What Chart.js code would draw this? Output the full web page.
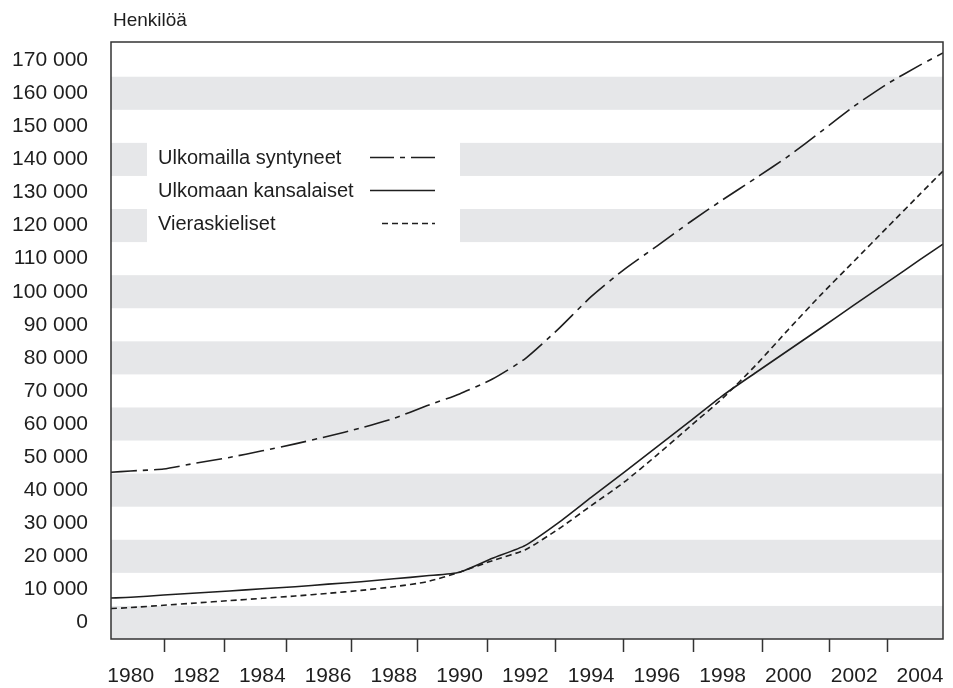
<!DOCTYPE html>
<html>
<head>
<meta charset="utf-8">
<script src="https://cdn.jsdelivr.net/npm/chart.js@4/dist/chart.umd.min.js"></script>
<style>
  body{margin:0;background:#fff;}
</style>
</head>
<body>
<canvas id="chart" width="953" height="688"></canvas>
<script>
// Data (first/last x are the plot edges)
const years = [1979.4,1980,1981,1982,1983,1984,1985,1986,1987,1988,1989,1990,1991,1992,
  1993,1994,1995,1996,1997,1998,1999,2000,2001,2002,2003,2004,2004.7];
const syntyneet = [45400,45800,46400,48200,49900,51900,54000,56300,58800,61700,65500,69100,73600,
  79800,88700,98500,106700,113800,121000,127800,134300,141000,148500,156100,162800,168500,172200];
const kansalaiset = [7400,7600,8300,8900,9500,10200,10800,11600,12300,13200,14100,15200,19400,
  23300,30100,37800,45400,53100,60800,68600,75500,82300,89100,96000,102800,109700,114400];
const vieraskieliset = [4200,4500,5200,5900,6600,7300,8000,8800,9700,10800,12300,15200,18700,
  22000,28200,35300,42400,50600,59200,67800,77700,88600,99200,109300,119400,129500,136500];

const labels = ["Ulkomailla syntyneet","Ulkomaan kansalaiset","Vieraskieliset"];
const xLabelYears = [1980,1982,1984,1986,1988,1990,1992,1994,1996,1998,2000,2002,2004];
const xTickMarks = [1981.0,1982.83,1984.71,1986.71,1988.72,1990.84,1992.91,1994.98,1997.11,1999.2,2001.23,2002.99];
const yTicks = [0,10000,20000,30000,40000,50000,60000,70000,80000,90000,100000,110000,120000,
  130000,140000,150000,160000,170000];

const ink = "#1e1e1e";
const font = "'Liberation Sans', Arial, sans-serif";

function fmt(v){ return String(v).replace(/\B(?=(\d{3})+(?!\d))/g," "); }
function pts(arr){ return arr.map((v,i)=>({x:years[i],y:v})); }

// grey bands + legend background
const bands = {
  id:"bands",
  beforeDatasetsDraw(chart){
    const {ctx,chartArea:a,scales:{y}} = chart;
    ctx.save();
    ctx.fillStyle = "#e6e7e9";
    yTicks.forEach(v=>{
      if(v % 20000 !== 0) return;
      let t = Math.max(y.getPixelForValue(v+5000), a.top);
      let b = Math.min(y.getPixelForValue(v-5000), a.bottom);
      ctx.fillRect(a.left, t, a.right-a.left, b-t);
    });
    // white box behind legend
    ctx.fillStyle = "#fff";
    let t = y.getPixelForValue(147000), b = y.getPixelForValue(113000);
    ctx.fillRect(a.left+36, t, 313, b-t);
    ctx.restore();
  }
};

// legend inside the plot, text then line sample
const legendIn = {
  id:"legendIn",
  afterDatasetsDraw(chart){
    const {ctx,chartArea:a,scales:{y}} = chart;
    ctx.save();
    ctx.font = "20px " + font;
    ctx.fillStyle = ink;
    ctx.textBaseline = "middle";
    chart.data.datasets.forEach((ds,i)=>{
      const py = y.getPixelForValue(140000 - i*10000) - 1;
      ctx.fillText(ds.label, a.left+47, py);
      ctx.strokeStyle = ink;
      ctx.lineWidth = 1.5;
      ctx.setLineDash(i===0 ? [24,6,5,6] : (ds.borderDash||[]));
      ctx.beginPath();
      ctx.moveTo(a.left + (i===2 ? 271 : 259), py - 1);
      ctx.lineTo(a.left+324, py - 1);
      ctx.stroke();
    });
    ctx.restore();
  }
};

// frame, tick marks, unit label
const frame = {
  id:"frame",
  afterDraw(chart){
    const {ctx,chartArea:a,scales:{x}} = chart;
    ctx.save();
    ctx.strokeStyle = "#333";
    ctx.lineWidth = 1.5;
    ctx.strokeRect(a.left, a.top, a.right-a.left, a.bottom-a.top);
    ctx.beginPath();
    xTickMarks.forEach(v=>{
      const px = Math.round(x.getPixelForValue(v)) + 0.5;
      ctx.moveTo(px, a.bottom);
      ctx.lineTo(px, a.bottom+13);
    });
    ctx.stroke();
    ctx.font = "19px " + font;
    ctx.fillStyle = ink;
    ctx.textBaseline = "alphabetic";
    ctx.fillText("Henkilöä", a.left+2, 26);
    ctx.restore();
  }
};

new Chart(document.getElementById("chart"), {
  type:"line",
  data:{
    datasets:[
      {label:labels[0], data:pts(syntyneet), borderDash:[26,6,5,6]},
      {label:labels[1], data:pts(kansalaiset)},
      {label:labels[2], data:pts(vieraskieliset), borderDash:[6,4]}
    ].map(d=>Object.assign({borderColor:ink, borderWidth:1.6, pointRadius:0, tension:0.2, fill:false}, d))
  },
  options:{
    responsive:false,
    animation:false,
    devicePixelRatio:1,
    layout:{padding:{top:42,right:10,left:0,bottom:0}},
    plugins:{legend:{display:false}, tooltip:{enabled:false}, title:{display:false}},
    scales:{
      x:{
        type:"linear", min:1979.4, max:2004.7,
        afterBuildTicks(s){ s.ticks = xLabelYears.map(v=>({value:v})); },
        afterFit(s){ s.height = 49; },
        grid:{display:true, drawOnChartArea:false, drawTicks:true, tickLength:22, color:"rgba(0,0,0,0)"},
        border:{display:false},
        ticks:{color:ink, font:{family:font,size:21}, padding:3, maxRotation:0, autoSkip:false,
          callback:v=>String(v)}
      },
      y:{
        min:-5000, max:175500,
        afterBuildTicks(s){ s.ticks = yTicks.map(v=>({value:v})); },
        afterFit(s){ s.width = 111; },
        grid:{display:false, drawTicks:false}, border:{display:false},
        ticks:{color:ink, font:{family:font,size:21}, padding:23, autoSkip:false, callback:v=>fmt(v)}
      }
    }
  },
  plugins:[bands, legendIn, frame]
});
</script>
</body>
</html>
